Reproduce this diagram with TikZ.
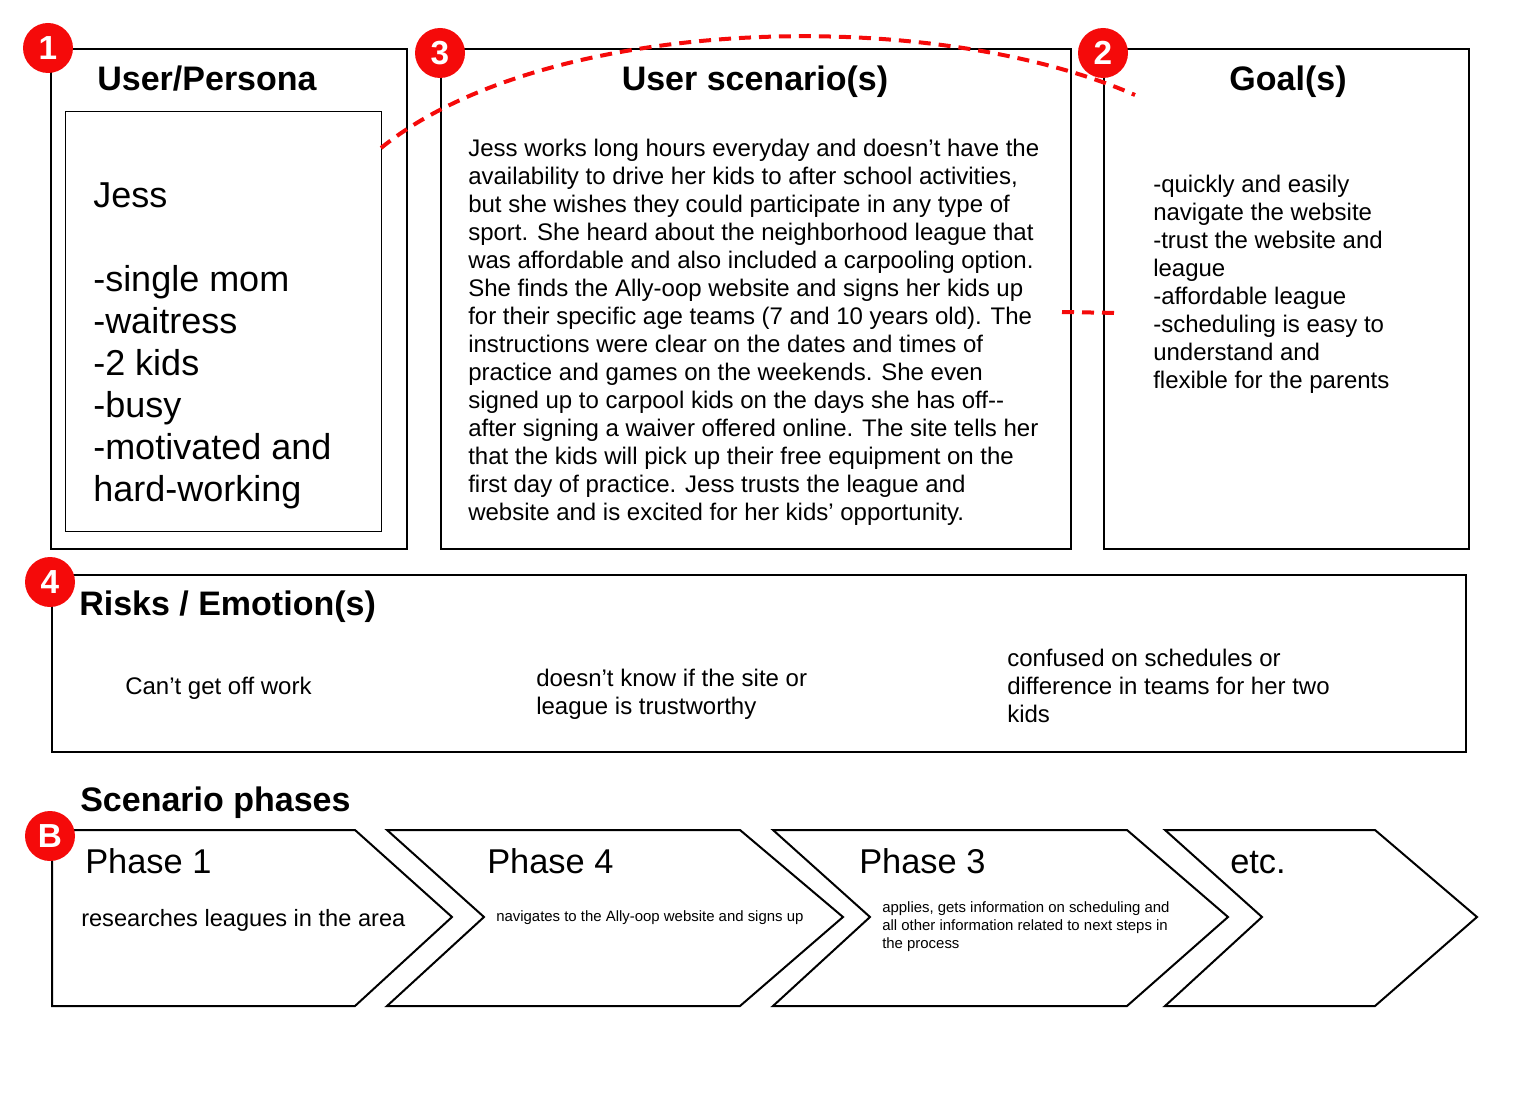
\documentclass[tikz,border=0pt]{standalone}
\usepackage{fontspec}
\setmainfont{Liberation Sans}
\usetikzlibrary{fit}
\definecolor{badgered}{HTML}{F50A0A}
\tikzset{
    panel/.style={draw, line width=1.5pt, inner sep=0pt},
    inner panel/.style={draw, line width=0.75pt, inner sep=0pt},
    badge/.style={circle, fill=badgered, text=white, inner sep=0pt,
        minimum size=37.5pt, font=\fontsize{25}{25}\selectfont\bfseries},
    heading/.style={inner sep=0pt, anchor=base, font=\fontsize{25.5}{30}\selectfont\bfseries},
    body/.style={inner sep=0pt, anchor=base west, align=left, font=\fontsize{18}{21}\selectfont},
    big body/.style={inner sep=0pt, anchor=base west, align=left, font=\fontsize{27}{31.5}\selectfont},
    phase name/.style={inner sep=0pt, anchor=base west, font=\fontsize{25.8}{31.5}\selectfont},
    small body/.style={inner sep=0pt, anchor=base west, align=left, font=\fontsize{11.2}{13.5}\selectfont},
    phase/.style={draw, line width=1.5pt, line join=miter},
    link/.style={draw=badgered, line width=3pt, dash pattern=on 9pt off 6pt},
}
\begin{document}
\begin{tikzpicture}[x=0.75pt, y=-0.75pt]
    \useasboundingbox (0,0) rectangle (1521,1102);
    % panels
    \node[panel, fit={(51,49) (407,549)}] (persona) {};
    \node[inner panel, fit={(65,112) (381,531)}] (jess) {};
    \node[panel, fit={(441,49) (1071,549)}] (scenario) {};
    \node[panel, fit={(1104,49) (1469,549)}] (goals) {};
    \node[panel, fit={(52,575) (1466,752)}] (risks) {};
    % headings
    \node[heading] (persona title) at (207,91) {User/Persona};
    \node[heading] (scenario title) at (755,91) {User scenario(s)};
    \node[heading] (goals title) at (1288,91) {Goal(s)};
    \node[heading, anchor=base west] (risks title) at (79,615) {Risks / Emotion(s)};
    \node[heading, anchor=base west] (phases title) at (80,811) {Scenario phases};
    % texts (anchored on the last line)
    \node[big body] (jess text) at (93,501) {Jess\\[31.5pt]-single mom\\-waitress\\-2 kids\\-busy\\-motivated and\\hard-working};
    \node[body] (scenario text) at (468,520) {Jess works long hours everyday and doesn’t have the\\
        availability to drive her kids to after school activities,\\
        but she wishes they could participate in any type of\\
        sport. She heard about the neighborhood league that\\
        was affordable and also included a carpooling option.\\
        She finds the Ally-oop website and signs her kids up\\
        for their specific age teams (7 and 10 years old). The\\
        instructions were clear on the dates and times of\\
        practice and games on the weekends. She even\\
        signed up to carpool kids on the days she has off-{}-\\
        after signing a waiver offered online. The site tells her\\
        that the kids will pick up their free equipment on the\\
        first day of practice. Jess trusts the league and\\
        website and is excited for her kids’ opportunity.};
    \node[body] (goals text) at (1153,388) {-quickly and easily\\navigate the website\\-trust the website and\\league\\-affordable league\\-scheduling is easy to\\understand and\\flexible for the parents};
    \node[body] (risk one) at (125,694) {Can’t get off work};
    \node[body] (risk two) at (536,714) {doesn’t know if the site or\\league is trustworthy};
    \node[body] (risk three) at (1007,722) {confused on schedules or\\difference in teams for her two\\kids};
    % phases
    \draw[phase] (52,830) -- (355,830) -- (452,917) -- (355,1006) -- (52,1006) -- cycle;
    \draw[phase] (387,830) -- (740,830) -- (843,917) -- (740,1006) -- (387,1006) -- (484,917) -- cycle;
    \draw[phase] (773,830) -- (1127,830) -- (1228,917) -- (1127,1006) -- (773,1006) -- (870,917) -- cycle;
    \draw[phase] (1165,830) -- (1375,830) -- (1477,917) -- (1375,1006) -- (1165,1006) -- (1262,917) -- cycle;
    \node[phase name] (phase one) at (85,873) {Phase 1};
    \node[body, font=\fontsize{17.7}{21}\selectfont] (phase one text) at (81,926) {researches leagues in the area};
    \node[phase name] (phase four) at (487,873) {Phase 4};
    \node[small body] (phase four text) at (496,921) {navigates to the Ally-oop website and signs up};
    \node[phase name] (phase three) at (859,873) {Phase 3};
    \node[small body] (phase three text) at (882,948) {applies, gets information on scheduling and\\all other information related to next steps in\\the process};
    \node[phase name] (phase etc) at (1230,873) {etc.};
    % badges
    \node[badge] (badge one) at (48,48) {1};
    \node[badge] (badge three) at (440,53) {3};
    \node[badge] (badge two) at (1103,53) {2};
    \node[badge] (badge four) at (50,582) {4};
    \node[badge] (badge b) at (50,836) {B};
    % links
    \coordinate (persona link) at (381,148);
    \coordinate (goals link) at (1135,95);
    \coordinate (scenario link) at (1062,312);
    \coordinate (goals side) at (1120,313);
    \draw[link] (persona link) .. controls (545,15) and (930,5) .. (goals link);
    \draw[link] (scenario link) -- (goals side);
\end{tikzpicture}
\end{document}
